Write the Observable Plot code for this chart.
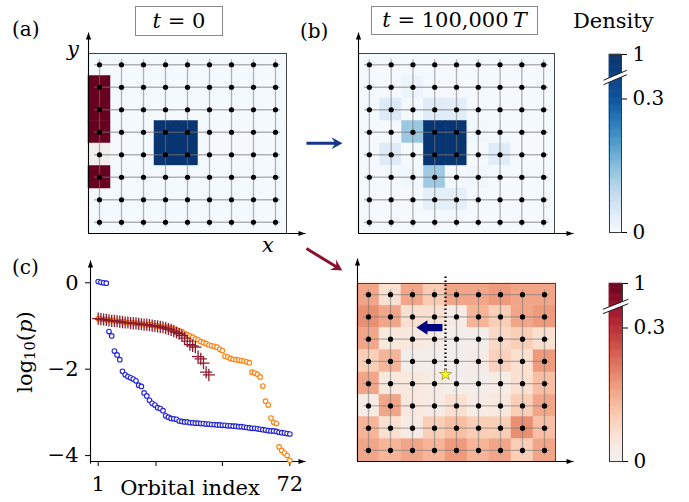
<!DOCTYPE html>
<html><head><meta charset="utf-8">
<script src="https://cdn.jsdelivr.net/npm/d3@7"></script>
<script src="https://cdn.jsdelivr.net/npm/@observablehq/plot@0.6"></script>
<style>
body{margin:0;background:#fff;}
#fig{position:relative;width:689px;height:502px;overflow:hidden;font-family:"DejaVu Serif",serif;color:#000;}
.lbl{position:absolute;white-space:nowrap;line-height:1;}
.tbox{position:absolute;box-sizing:border-box;border:1px solid #8a8a8a;display:flex;align-items:center;justify-content:center;line-height:1;white-space:nowrap;}
</style></head><body><div id="fig"></div>
<script>
// ---------------- data ----------------
const cols = [0, 1, 2, 3, 4, 5, 6, 7, 8];
const rows = [0, 1, 2, 3, 4, 5, 6, 7];

// panel (a): blue density at t = 0
const densityA = [
  [.006,.006,.006,.006,.006,.006,.006,.006,.006],
  [.006,.006,.006,.006,.006,.006,.006,.006,.006],
  [.006,.006,.006,.006,.006,.006,.006,.006,.006],
  [.006,.006,.006,.9,.9,.006,.006,.006,.006],
  [.006,.006,.006,.9,.9,.006,.006,.006,.006],
  [.006,.006,.006,.006,.006,.006,.006,.006,.006],
  [.006,.006,.006,.006,.006,.006,.006,.006,.006],
  [.006,.006,.006,.006,.006,.006,.006,.006,.006]
];
// panel (a): red density on the left edge
const redACol = [0, 0, 0, 0, 0];
const redARow = [1, 2, 3, 4, 5];
const redAVal = [1, 1, 1, 0, 1];

// panel (b): blue density at t = 100,000 T
const densityB = [
  [.006,.006,.006,.006,.006,.006,.006,.006,.006],
  [.006,.006,.017,.006,.006,.006,.006,.006,.006],
  [.006,.045,.006,.04,.038,.006,.006,.006,.006],
  [.006,.006,.13,.9,.9,.012,.006,.006,.006],
  [.006,.042,.006,.9,.9,.006,.04,.006,.006],
  [.006,.006,.012,.125,.006,.012,.006,.006,.006],
  [.006,.006,.006,.031,.031,.006,.006,.006,.006],
  [.006,.006,.006,.006,.006,.006,.006,.006,.006]
];

// bottom-right panel: red density
const densityD = [
  [.155,.06,.155,.1,.155,.155,.17,.155,.155],
  [.185,.155,.06,.06,.025,.135,.095,.155,.17],
  [.155,.04,.04,.025,.01,.01,.075,.095,.06],
  [.095,.135,.01,.01,.01,.025,.09,.06,.17],
  [.155,.04,.04,.025,.01,.01,.025,.06,.12],
  [.025,.155,.04,.025,.06,.025,.04,.095,.155],
  [.135,.06,.025,.095,.12,.095,.095,.185,.12],
  [.155,.135,.155,.135,.17,.135,.155,.095,.155]
];

// panel (c): log10(p) vs orbital index
const orbitalIndex = Array.from({length: 72}, (_, k) => k + 1);
const logpBlue = [0.03,0.01,0.0,-0.01,-1.13,-1.23,-1.58,-1.67,-1.78,
  -2.05,-2.13,-2.17,-2.2,-2.23,-2.27,-2.37,-2.40,
  -2.55,-2.62,-2.72,-2.79,-2.83,-2.89,-2.91,-2.96,
  -3.08,-3.11,-3.14,-3.15,-3.16,-3.2,-3.21,-3.22,-3.22,-3.24,-3.24,-3.25,-3.25,-3.26,-3.26,
  -3.27,-3.27,-3.28,-3.28,-3.29,-3.29,-3.3,-3.3,-3.31,-3.31,-3.32,-3.32,-3.33,-3.33,-3.34,
  -3.35,-3.36,-3.37,-3.37,-3.38,-3.39,-3.4,-3.41,-3.42,-3.43,-3.43,-3.44,-3.46,-3.47,-3.48,-3.49,-3.5];
const logpOrange = [-0.83,-0.84,-0.85,-0.85,-0.86,-0.87,-0.88,-0.89,-0.89,-0.9,-0.91,-0.92,-0.92,-0.93,
  -0.94,-0.94,-0.95,-0.96,-0.97,-0.97,-0.98,-0.99,-1.0,-1.01,-1.02,-1.03,-1.04,-1.05,-1.07,-1.09,-1.11,
  -1.13,-1.17,-1.2,-1.23,-1.26,-1.30,-1.32,-1.36,-1.38,-1.41,-1.44,-1.46,-1.47,-1.49,-1.54,-1.57,
  -1.70,-1.72,-1.75,-1.77,-1.78,-1.79,-1.80,-1.81,-1.83,-1.85,
  -2.07,-2.09,-2.12,-2.18,-2.39,-2.74,-2.83,-3.13,-3.23,-3.26,-3.8,-3.88,-3.94,-4.0,-4.11];
const logpRed = [-0.83,-0.84,-0.85,-0.86,-0.87,-0.88,-0.88,-0.89,-0.9,-0.91,-0.92,-0.92,-0.93,-0.94,
  -0.94,-0.95,-0.96,-0.97,-0.97,-0.98,-0.99,-1.0,-1.01,-1.02,-1.03,-1.05,-1.07,-1.09,-1.12,-1.15,
  -1.18,-1.22,-1.28,-1.35,-1.43,-1.46,-1.49,-1.71,-1.76,-1.86,-2.07,-2.13];
const yTicksC = [0, -2, -4];
const xTicksC = [1, 22.4, 47, 72];
const xTickLabelsC = ["1", "", "", "72"];
// colour bar: tick values and where they sit along the bar (fraction of its height)
const cbarTicks = [0, 0.3, 1];
const cbarTickPos = [0, 0.75, 1];
const cbarTickLabels = ["0", "0.3", "1"];

// annotations (panel coordinates)
const starSite = {x: 3.5, y: 3.59};
const dottedTop = -0.86;
const pushArrow = {x: 3.36, y: 1.48};

// ---------------- helpers ----------------
const FONT = "DejaVu Serif";
const fig = document.getElementById("fig");
const baseStyle = {background: "transparent", overflow: "visible", fontFamily: FONT};
function place(svg, left, top) {
  svg.style.position = "absolute";
  svg.style.left = left + "px";
  svg.style.top = top + "px";
  fig.appendChild(svg);
}
function label(html, x, baseline, {size = 21, anchor = "start"} = {}) {
  const d = document.createElement("div");
  d.className = "lbl";
  d.innerHTML = html;
  d.style.fontSize = size + "px";
  d.style.left = x + "px";
  d.style.top = (baseline - 0.846 * size) + "px";
  if (anchor === "middle") d.style.transform = "translateX(-50%)";
  fig.appendChild(d);
  return d;
}
function tbox(html, x, y, w, h, size) {
  const d = document.createElement("div");
  d.className = "tbox";
  d.innerHTML = html;
  Object.assign(d.style, {left: x + "px", top: y + "px", width: w + "px", height: h + "px", fontSize: size + "px"});
  fig.appendChild(d);
}
// colour maps as functions of the position along the colour bar (0 = bottom, 1 = top)
const bluePos = p => d3.interpolateBlues(p < 0.75 ? p * 0.875 / 0.75 : 0.875 + (p - 0.75) * 0.5);
const redPos = p => d3.interpolateRdBu(0.5 - 0.5 * p);
const blueColor = {type: "linear", domain: cbarTicks, range: cbarTickPos, interpolate: bluePos};
const redColor = {type: "linear", domain: cbarTicks, range: cbarTickPos, interpolate: redPos};

const tri = {draw(ctx, l) { ctx.moveTo(0, -l); ctx.lineTo(2.6, -l + 7); ctx.lineTo(-2.6, -l + 7); ctx.closePath(); }};
function fancy(w, hl, hw, notch) {
  return {draw(ctx, l) {
    const b = -(l - hl);
    ctx.moveTo(-w, 0); ctx.lineTo(-w, b - notch); ctx.lineTo(-hw, b); ctx.lineTo(0, -l);
    ctx.lineTo(hw, b); ctx.lineTo(w, b - notch); ctx.lineTo(w, 0); ctx.closePath();
  }};
}
const cellsOf = m => m.flatMap((r, i) => r.map((v, j) => ({col: j, row: i, v})));
const sites = rows.flatMap(r => cols.map(c => ({col: c, row: r})));
const cellRect = data => Plot.rect(data, {x1: d => d.col - 0.5, x2: d => d.col + 0.5,
  y1: d => d.row - 0.5, y2: d => d.row + 0.5, fill: "v", stroke: "v", strokeWidth: 0.5});
const latticeMarks = () => [
  Plot.ruleY(rows, {x1: -0.22, x2: 8.22, stroke: "#777", strokeOpacity: 0.55, strokeWidth: 1.3}),
  Plot.ruleX(cols, {y1: -0.22, y2: 7.22, stroke: "#777", strokeOpacity: 0.55, strokeWidth: 1.3}),
  Plot.dot(sites, {x: "col", y: "row", r: 2.6, fill: "black", stroke: "none"})
];
function axisArrows(xTip, yTip) {
  return [
    Plot.link([{x1: -0.5, y1: 7.5, x2: -0.5, y2: yTip}], {x1: "x1", y1: "y1", x2: "x2", y2: "y2", stroke: "black", strokeWidth: 1.1}),
    Plot.link([{x1: -0.5, y1: 7.5, x2: xTip, y2: 7.5}], {x1: "x1", y1: "y1", x2: "x2", y2: "y2", stroke: "black", strokeWidth: 1.1}),
    Plot.vector([{x: -0.5, y: yTip}], {x: "x", y: "y", length: 7, rotate: 0, anchor: "end", shape: tri, fill: "black", stroke: "none"}),
    Plot.vector([{x: xTip, y: 7.5}], {x: "x", y: "y", length: 7, rotate: 90, anchor: "end", shape: tri, fill: "black", stroke: "none"})
  ];
}
function lattice({width, height, mL, mR, mT, mB, color, marks}) {
  return Plot.plot({
    width, height, marginLeft: mL, marginRight: mR, marginTop: mT, marginBottom: mB,
    x: {domain: [-0.5, 8.5], axis: null},
    y: {domain: [-0.5, 7.5], reverse: true, axis: null},
    color, style: baseStyle, marks
  });
}

// ---------------- panel (a) ----------------
const aGeom = {width: 310, height: 250, mL: 88, mR: 24, mT: 53, mB: 17};
place(lattice({...aGeom, color: blueColor, marks: [cellRect(cellsOf(densityA))]}), 0, 0);
const redA = redACol.map((c, k) => ({col: c, row: redARow[k], v: redAVal[k]}));
place(lattice({...aGeom, color: redColor, marks: [
  cellRect(redA),
  ...latticeMarks(),
  Plot.frame({stroke: "#444", strokeWidth: 1}),
  ...axisArrows(9.36, -1.43)
]}), 0, 0);

// ---------------- panel (b) ----------------
place(lattice({width: 290, height: 250, mL: 58, mR: 36, mT: 53, mB: 17, color: blueColor, marks: [
  cellRect(cellsOf(densityB)),
  ...latticeMarks(),
  Plot.frame({stroke: "#444", strokeWidth: 1}),
  ...axisArrows(9.37, -1.43),
  Plot.vector([{x: -2.89, y: 3.49}], {x: "x", y: "y", length: 36, rotate: 90, anchor: "start",
    shape: fancy(1.5, 11, 6, 3), fill: "#17348f", stroke: "none"})
]}), 300, 0);

// ---------------- bottom-right panel ----------------
place(lattice({width: 290, height: 262, mL: 57, mR: 35, mT: 43, mB: 41, color: redColor, marks: [
  cellRect(cellsOf(densityD)),
  ...latticeMarks(),
  Plot.frame({stroke: "#444", strokeWidth: 1}),
  ...axisArrows(9.32, -1.62),
  Plot.ruleX([starSite], {x: "x", y1: "y", y2: () => dottedTop, stroke: "black", strokeWidth: 2.2, strokeDasharray: "1.6,2.4"}),
  Plot.dot([starSite], {x: "x", y: "y", symbol: "star", r: 3.8, fill: "#ffff1a", stroke: "#8a8a20", strokeWidth: 0.7}),
  Plot.vector([pushArrow], {x: "x", y: "y", length: 26, rotate: -90, anchor: "start",
    shape: fancy(3.6, 11, 7.3, 0), fill: "#00007f", stroke: "none"}),
  Plot.vector([{x: -2.82, y: -2.07}], {x: "x", y: "y", length: 42, rotate: 121.4, anchor: "start",
    shape: fancy(1.5, 11, 6, 3), fill: "#8b1130", stroke: "none"})
]}), 300, 240);

// ---------------- colour bars ----------------
function colorbar({width, height, mL, mR, mT, mB, interp}) {
  const stops = [];
  for (let k = 0; k < 200; k++) stops.push({a: k / 200, b: (k + 1) / 200, m: (k + 0.5) / 200});
  const brk = [{x1: -0.5, x2: 1.45, y1: 0.843, y2: 0.899}];
  return Plot.plot({
    width, height, marginLeft: mL, marginRight: mR, marginTop: mT, marginBottom: mB,
    x: {domain: [0, 1], axis: null},
    y: {domain: [0, 1], axis: null},
    color: {type: "linear", domain: [0, 1], interpolate: interp},
    style: baseStyle,
    marks: [
      Plot.rect(stops, {x1: 0, x2: 1, y1: "a", y2: "b", fill: "m", stroke: "m", strokeWidth: 0.6}),
      Plot.frame({stroke: "#3a3a3a", strokeWidth: 1}),
      Plot.axisY({ticks: cbarTickPos, anchor: "right", tickSize: 5, tickPadding: 6, fontSize: 20, fontFamily: FONT,
        tickFormat: d => cbarTickLabels[cbarTickPos.indexOf(d)], stroke: "black"}),
      Plot.link(brk, {x1: "x1", x2: "x2", y1: "y1", y2: "y2", stroke: "white", strokeWidth: 4.4, strokeLinecap: "butt"}),
      Plot.link(brk, {x1: "x1", x2: "x2", y1: "y1", y2: "y2", stroke: "black", strokeWidth: 0.9, dy: -2.2}),
      Plot.link(brk, {x1: "x1", x2: "x2", y1: "y1", y2: "y2", stroke: "black", strokeWidth: 0.9, dy: 2.2})
    ]
  });
}
place(colorbar({width: 99, height: 250, mL: 19, mR: 68, mT: 54, mB: 18, interp: bluePos}), 590, 0);
place(colorbar({width: 99, height: 252, mL: 19, mR: 67, mT: 33, mB: 41, interp: redPos}), 590, 250);

// ---------------- panel (c) ----------------
const tableBlue = orbitalIndex.map((i, k) => ({i, v: logpBlue[k]}));
const tableOrange = orbitalIndex.map((i, k) => ({i, v: logpOrange[k]}));
const tableRed = logpRed.map((v, k) => ({i: orbitalIndex[k], v}));
const xLo = -1.853, xHi = 77.8, yLo = -4.137, yHi = 0.516;
place(Plot.plot({
  width: 320, height: 252, marginLeft: 90, marginRight: 15, marginTop: 10, marginBottom: 41,
  x: {domain: [xLo, xHi]}, y: {domain: [yLo, yHi]},
  style: baseStyle,
  marks: [
    Plot.axisY({ticks: yTicksC, anchor: "left", tickSize: 5, tickPadding: 7, fontSize: 21, fontFamily: FONT,
      tickFormat: d => d === 0 ? "0" : "\u2212" + Math.abs(d), stroke: "black"}),
    Plot.axisX({ticks: xTicksC, anchor: "bottom", tickSize: 5, tickPadding: 10, fontSize: 21, fontFamily: FONT,
      tickFormat: d => xTickLabelsC[xTicksC.indexOf(d)], stroke: "black"}),
    Plot.link([{x1: xLo, y1: yLo - 0.05, x2: xLo, y2: yHi}], {x1: "x1", y1: "y1", x2: "x2", y2: "y2", stroke: "black", strokeWidth: 1.1}),
    Plot.link([{x1: xLo, y1: yLo, x2: xHi, y2: yLo}], {x1: "x1", y1: "y1", x2: "x2", y2: "y2", stroke: "black", strokeWidth: 1.1}),
    Plot.vector([{x: xLo, y: yHi}], {x: "x", y: "y", length: 7, rotate: 0, anchor: "end", shape: tri, fill: "black", stroke: "none"}),
    Plot.vector([{x: xHi, y: yLo}], {x: "x", y: "y", length: 7, rotate: 90, anchor: "end", shape: tri, fill: "black", stroke: "none"}),
    Plot.dot(tableOrange, {x: "i", y: "v", r: 2.3, stroke: "#ff7f0e", strokeWidth: 1.1, fill: "white"}),
    Plot.dot(tableRed, {x: "i", y: "v", r: 4, symbol: "plus", stroke: "#8b1a2e", strokeWidth: 1.3}),
    Plot.dot(tableBlue, {x: "i", y: "v", r: 2.3, stroke: "#2323d2", strokeWidth: 1.1, fill: "white"})
  ]
}), 0, 250);

// ---------------- texts ----------------
label("(a)", 12, 36, {size: 20});
label("(b)", 300, 37.5, {size: 20});
label("(c)", 12, 274, {size: 20});
label("<i>y</i>", 67, 57, {size: 21});
label("<i>x</i>", 262, 253, {size: 21});
label("Density", 573, 29, {size: 21});
label("Orbital index", 190, 496, {size: 21, anchor: "middle"});
const ylab = document.createElement("div");
ylab.className = "lbl";
ylab.innerHTML = "log<sub style='font-size:0.7em;vertical-align:-0.25em;line-height:0'>10</sub>(<i>p</i>)";
Object.assign(ylab.style, {fontSize: "21px", left: "25px", top: "352px", transform: "translate(-50%,-50%) rotate(-90deg)"});
fig.appendChild(ylab);
tbox("<i>t</i>&nbsp;=&nbsp;0", 135, 6, 88, 30, 21);
tbox("<i>t</i>&nbsp;=&nbsp;100,000&#8201;<i>T</i>", 371, 6, 167, 29, 21);
</script></body></html>
